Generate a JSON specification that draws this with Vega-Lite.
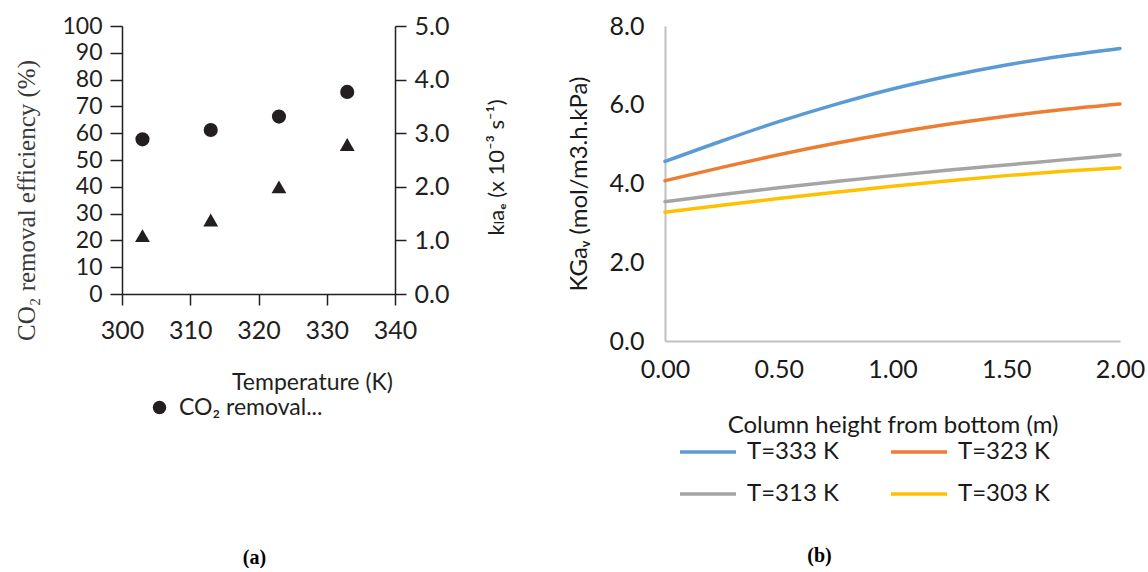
{
  "$schema": "https://vega.github.io/schema/vega-lite/v6.json",
  "background": "white",
  "padding": {"left": 13, "top": 14, "right": 0, "bottom": 0},
  "config": {"view": {"stroke": null}, "font": "Lato"},
  "spacing": 270,
  "bounds": "flush",
  "resolve": {"scale": {"color": "independent"}, "legend": {"color": "independent"}},
  "hconcat": [
    {
      "width": 273,
      "height": 268,
      "title": {"text": "(a)", "orient": "bottom", "anchor": "middle", "frame": "group", "offset": 128, "dx": -4, "font": "Liberation Serif", "fontSize": 20, "fontWeight": "bold", "color": "#000000"},
      "data": {"values": [
        {"T": 303, "eff": 57.7, "kla": 1.09},
        {"T": 313, "eff": 61.2, "kla": 1.38},
        {"T": 323, "eff": 66.2, "kla": 2.0},
        {"T": 333, "eff": 75.4, "kla": 2.79}
      ]},
      "layer": [
        {
          "mark": {"type": "point", "shape": "circle", "filled": true, "size": 200, "opacity": 1},
          "encoding": {
            "x": {"field": "T", "type": "quantitative", "scale": {"domain": [300, 340], "nice": false, "zero": false},
              "axis": {"values": [300, 310, 320, 330, 340], "grid": false, "tickSize": 11, "tickWidth": 1.5, "tickColor": "#231f20", "domainColor": "#231f20", "domainWidth": 1.5,
                "labelFont": "Lato", "labelFontSize": 25, "labelColor": "#231f20", "labelPadding": 13, "labelOverlap": false, "labelFlush": false, "labelBound": false,
                "title": "Temperature (K)", "titleFont": "Lato", "titleFontSize": 23, "titleFontWeight": "normal", "titleColor": "#231f20", "titleX": 190, "titleY": 88, "titleBaseline": "middle", "titleAlign": "center"}},
            "y": {"field": "eff", "type": "quantitative", "scale": {"domain": [0, 100], "nice": false},
              "axis": {"values": [0, 10, 20, 30, 40, 50, 60, 70, 80, 90, 100], "format": "d", "grid": false, "tickSize": 12, "tickWidth": 1.5, "tickColor": "#231f20", "domainColor": "#231f20", "domainWidth": 1.5,
                "labelFont": "Lato", "labelFontSize": 23, "labelColor": "#231f20", "labelPadding": 8, "labelOverlap": false, "labelFlush": false, "labelBound": false,
                "title": "CO₂ removal efficiency (%)", "titleFont": "Liberation Serif", "titleFontSize": 25, "titleFontWeight": "normal", "titleColor": "#3a3a3a", "titleAngle": -90, "titleX": -96, "titleY": 174, "titleBaseline": "middle", "titleAlign": "center"}},
            "color": {"datum": "CO₂ removal...", "type": "nominal", "scale": {"range": ["#231f20"]},
              "legend": {"orient": "none", "legendX": 26, "legendY": 370, "title": null, "padding": 0, "symbolType": "circle", "symbolSize": 180, "symbolFillColor": "#231f20", "symbolStrokeWidth": 0, "labelFont": "Lato", "labelFontSize": 23, "labelColor": "#231f20", "labelOffset": 8, "labelLimit": 400}}
          }
        },
        {
          "mark": {"type": "point", "shape": "triangle-up", "filled": true, "size": 220, "opacity": 1, "color": "#231f20"},
          "encoding": {
            "x": {"field": "T", "type": "quantitative"},
            "y": {"field": "kla", "type": "quantitative", "scale": {"domain": [0, 5], "nice": false},
              "axis": {"orient": "right", "values": [0, 1, 2, 3, 4, 5], "format": ".1f", "grid": false, "tickSize": 11, "tickWidth": 1.5, "tickColor": "#231f20", "domainColor": "#231f20", "domainWidth": 1.5,
                "labelFont": "Lato", "labelFontSize": 25, "labelColor": "#231f20", "labelPadding": 8, "labelOverlap": false, "labelFlush": false, "labelBound": false,
                "title": "kₗaₑ (x 10⁻³ s⁻¹)", "titleFont": "Lato, DejaVu Sans", "titleFontSize": 22, "titleFontWeight": "normal", "titleColor": "#231f20", "titleAngle": -90, "titleX": 101, "titleY": 141, "titleBaseline": "middle", "titleAlign": "center"}}
          }
        }
      ],
      "resolve": {"scale": {"y": "independent"}}
    },
    {
      "width": 455,
      "height": 315,
      "title": {"text": "(b)", "orient": "bottom", "anchor": "middle", "frame": "group", "offset": 40, "dx": -73, "font": "Liberation Serif", "fontSize": 20, "fontWeight": "bold", "color": "#000000"},
      "data": {"values": [
        {"h": 0, "series": "T=333 K", "v": 4.56}, {"h": 0.25, "series": "T=333 K", "v": 5.08}, {"h": 0.5, "series": "T=333 K", "v": 5.57}, {"h": 0.75, "series": "T=333 K", "v": 6.01}, {"h": 1.0, "series": "T=333 K", "v": 6.40}, {"h": 1.25, "series": "T=333 K", "v": 6.73}, {"h": 1.5, "series": "T=333 K", "v": 7.01}, {"h": 1.75, "series": "T=333 K", "v": 7.24}, {"h": 2.0, "series": "T=333 K", "v": 7.43},
        {"h": 0, "series": "T=323 K", "v": 4.07}, {"h": 0.25, "series": "T=323 K", "v": 4.41}, {"h": 0.5, "series": "T=323 K", "v": 4.73}, {"h": 0.75, "series": "T=323 K", "v": 5.02}, {"h": 1.0, "series": "T=323 K", "v": 5.28}, {"h": 1.25, "series": "T=323 K", "v": 5.51}, {"h": 1.5, "series": "T=323 K", "v": 5.71}, {"h": 1.75, "series": "T=323 K", "v": 5.88}, {"h": 2.0, "series": "T=323 K", "v": 6.02},
        {"h": 0, "series": "T=313 K", "v": 3.54}, {"h": 0.25, "series": "T=313 K", "v": 3.72}, {"h": 0.5, "series": "T=313 K", "v": 3.89}, {"h": 0.75, "series": "T=313 K", "v": 4.05}, {"h": 1.0, "series": "T=313 K", "v": 4.20}, {"h": 1.25, "series": "T=313 K", "v": 4.34}, {"h": 1.5, "series": "T=313 K", "v": 4.47}, {"h": 1.75, "series": "T=313 K", "v": 4.60}, {"h": 2.0, "series": "T=313 K", "v": 4.73},
        {"h": 0, "series": "T=303 K", "v": 3.27}, {"h": 0.25, "series": "T=303 K", "v": 3.45}, {"h": 0.5, "series": "T=303 K", "v": 3.62}, {"h": 0.75, "series": "T=303 K", "v": 3.78}, {"h": 1.0, "series": "T=303 K", "v": 3.93}, {"h": 1.25, "series": "T=303 K", "v": 4.07}, {"h": 1.5, "series": "T=303 K", "v": 4.20}, {"h": 1.75, "series": "T=303 K", "v": 4.31}, {"h": 2.0, "series": "T=303 K", "v": 4.40}
      ]},
      "mark": {"type": "line", "strokeWidth": 3.5, "interpolate": "monotone", "strokeCap": "round"},
      "encoding": {
        "x": {"field": "h", "type": "quantitative", "scale": {"domain": [0, 2], "nice": false},
          "axis": {"values": [0, 0.5, 1, 1.5, 2], "format": ".2f", "grid": false, "ticks": false, "domainColor": "#bfbfbf", "domainWidth": 2,
            "labelFont": "Lato", "labelFontSize": 25, "labelColor": "#1a1a1a", "labelPadding": 16, "labelOverlap": false, "labelFlush": false, "labelBound": false,
            "title": "Column height from bottom (m)", "titleFont": "Lato", "titleFontSize": 24, "titleFontWeight": "normal", "titleColor": "#1a1a1a", "titleX": 227.5, "titleY": 84, "titleBaseline": "middle", "titleAlign": "center"}},
        "y": {"field": "v", "type": "quantitative", "scale": {"domain": [0, 8], "nice": false},
          "axis": {"values": [0, 2, 4, 6, 8], "format": ".1f", "grid": false, "ticks": false, "domainColor": "#bfbfbf", "domainWidth": 2,
            "labelFont": "Lato", "labelFontSize": 25, "labelColor": "#1a1a1a", "labelPadding": 21, "labelOverlap": false, "labelFlush": false, "labelBound": false,
            "title": "KGaᵥ (mol/m3.h.kPa)", "titleFont": "Lato, DejaVu Sans", "titleFontSize": 24, "titleFontWeight": "normal", "titleColor": "#1a1a1a", "titleAngle": -90, "titleX": -86, "titleY": 157.5, "titleBaseline": "middle", "titleAlign": "center"}},
        "color": {"field": "series", "type": "nominal", "scale": {"domain": ["T=333 K", "T=313 K", "T=323 K", "T=303 K"], "range": ["#5b9bd5", "#a5a5a5", "#ed7d31", "#ffc000"]},
          "legend": {"orient": "none", "legendX": 13, "legendY": 396, "title": null, "padding": 0, "columns": 2, "columnPadding": 45, "rowPadding": -11, "symbolType": "stroke", "symbolSize": 3136, "symbolStrokeWidth": 3.5, "labelFont": "Lato", "labelFontSize": 24, "labelColor": "#1a1a1a", "labelOffset": 9, "labelLimit": 300}}
      }
    }
  ]
}
